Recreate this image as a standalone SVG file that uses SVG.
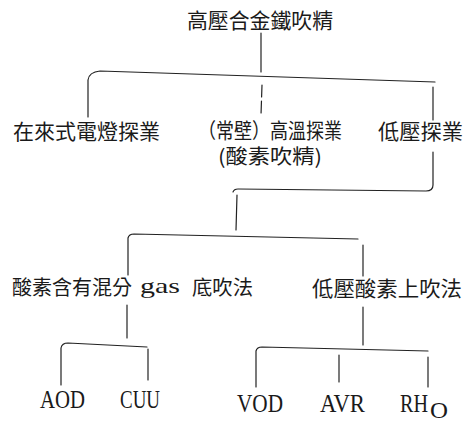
<svg xmlns="http://www.w3.org/2000/svg" width="476" height="423" viewBox="0 0 476 423">
<style>
.cjk{font-family:"Noto Sans CJK TC","Noto Sans CJK JP",sans-serif;font-size:21px;fill:#1a1a1a}
.lat{font-family:"Liberation Serif",serif;fill:#1a1a1a}
.ln{fill:none;stroke:#222;stroke-width:1.2;stroke-linecap:round}
</style>
<rect width="476" height="423" fill="#fff"/>
<g id="connectors">
<path class="ln" d="M261 33 L261 72"/>
<path class="ln" d="M88 117 L88 80 Q89 72 100 71 L435 82"/>
<path class="ln" d="M262 85 L261 115" stroke-dasharray="12 4"/>
<path class="ln" d="M433 87 L433 120"/>
<path class="ln" d="M433 152 L433 185 Q433 191 426 191 L238 189 Q234 189 233 192"/>
<path class="ln" d="M237 195 L236 230"/>
<path class="ln" d="M128 275 L128 238 Q129 234 134 234 L358 239"/>
<path class="ln" d="M363 245 L363 276"/>
<path class="ln" d="M127 305 L127 338"/>
<path class="ln" d="M61 385 L61 348 Q62 343 68 343 L147 347"/>
<path class="ln" d="M148 349 L148 380"/>
<path class="ln" d="M363 307 L363 345"/>
<path class="ln" d="M256 387 L256 351 Q257 347 262 347 L428 351"/>
<path class="ln" d="M339 355 L339 382"/>
<path class="ln" d="M428 357 L428 387"/>
</g>
<g id="n-root"><text class="cjk" x="187" y="28" textLength="146" lengthAdjust="spacingAndGlyphs">高壓合金鐵吹精</text></g>
<g id="n-conv"><text class="cjk" x="13" y="139" textLength="147" lengthAdjust="spacingAndGlyphs">在來式電燈探業</text></g>
<g id="n-high"><text class="cjk" x="198" y="138" textLength="144" lengthAdjust="spacingAndGlyphs">（常壁）高溫探業</text>
<text class="cjk" x="218" y="164" style="font-size:20px" textLength="104" lengthAdjust="spacingAndGlyphs">(酸素吹精)</text></g>
<g id="n-low"><text class="cjk" x="378" y="139" textLength="85" lengthAdjust="spacingAndGlyphs">低壓探業</text></g>
<g id="n-bottom"><text class="cjk" x="12" y="295" style="font-size:20px" textLength="120" lengthAdjust="spacingAndGlyphs">酸素含有混分</text>
<text class="lat" x="140" y="293" font-size="21" textLength="40" lengthAdjust="spacingAndGlyphs">gas</text>
<text class="cjk" x="192" y="295" style="font-size:20px" textLength="61" lengthAdjust="spacingAndGlyphs">底吹法</text></g>
<g id="n-top"><text class="cjk" x="312" y="296" textLength="150" lengthAdjust="spacingAndGlyphs">低壓酸素上吹法</text></g>
<g id="n-aod"><text class="lat" x="40" y="408" font-size="25" textLength="45" lengthAdjust="spacingAndGlyphs">AOD</text></g>
<g id="n-cuu"><text class="lat" x="120" y="408" font-size="25" textLength="40" lengthAdjust="spacingAndGlyphs">CUU</text></g>
<g id="n-vod"><text class="lat" x="237" y="412" font-size="25" textLength="46" lengthAdjust="spacingAndGlyphs">VOD</text></g>
<g id="n-avr"><text class="lat" x="320" y="412" font-size="25" textLength="45" lengthAdjust="spacingAndGlyphs">AVR</text></g>
<g id="n-rho"><text class="lat" x="400" y="412" font-size="25" textLength="28" lengthAdjust="spacingAndGlyphs">RH</text><text class="lat" x="430" y="418" font-size="24" textLength="18" lengthAdjust="spacingAndGlyphs">O</text></g>
</svg>
